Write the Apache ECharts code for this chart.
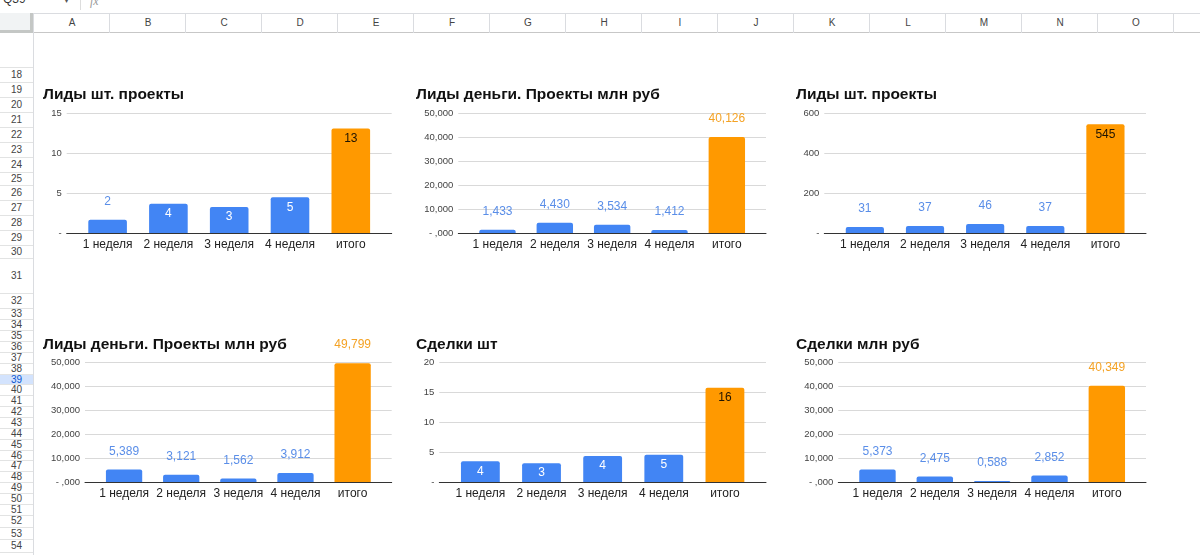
<!DOCTYPE html>
<html>
<head>
<meta charset="utf-8">
<script src="https://cdn.jsdelivr.net/npm/echarts@6/dist/echarts.min.js"></script>
<style>
html,body{margin:0;padding:0;width:1200px;height:555px;overflow:hidden;background:#fff;font-family:"Liberation Sans",Arial,sans-serif;}
#chrome{position:absolute;left:0;top:0;width:1200px;height:555px;}
#chart{position:absolute;left:0;top:0;width:1200px;height:555px;}
.abs{position:absolute;box-sizing:border-box;}
</style>
</head>
<body>
<div id="chrome"></div>
<div id="chart"></div>
<script>
// ---------- data ----------
const categories = ['1 неделя', '2 неделя', '3 неделя', '4 неделя', 'итого'];
const chartTitles = ['Лиды шт. проекты', 'Лиды деньги. Проекты млн руб', 'Лиды шт. проекты',
                     'Лиды деньги. Проекты млн руб', 'Сделки шт', 'Сделки млн руб'];
const leadsCountA = [1.7, 3.7, 3.3, 4.5, 13.1];
const leadsMoneyA = [1433, 4430, 3534, 1412, 40126];
const leadsCountB = [31, 37, 46, 37, 545];
const leadsMoneyB = [5389, 3121, 1562, 3912, 49799];
const dealsCount = [3.5, 3.2, 4.4, 4.6, 15.8];
const dealsMoney = [5373, 2475, 588, 2852, 40349];
const axisMax = [15, 50000, 600, 50000, 20, 50000];
const axisStep = [5, 10000, 200, 10000, 5, 10000];
const valueKinds = ['count', 'money', 'count', 'money', 'count', 'money'];
const columnLetters = ['A','B','C','D','E','F','G','H','I','J','K','L','M','N','O'];
const rowLabels = ['18','19','20','21','22','23','24','25','26','27','28','29','30','31','32','33','34','35','36','37','38','39','40','41','42','43','44','45','46','47','48','49','50','51','52','53','54'];

// ---------- spreadsheet chrome (decoration) ----------
(function () {
  const c = document.getElementById('chrome');
  function box(css, text) {
    const d = document.createElement('div');
    d.className = 'abs';
    d.style.cssText = css;
    if (text !== undefined) d.textContent = text;
    c.appendChild(d);
    return d;
  }
  box('left:3px;top:-8px;font-size:12px;color:#333;', 'Q39');
  box('left:64px;top:-6px;font-size:10px;color:#555;', '▾');
  box('left:80px;top:0;width:1px;height:10px;background:#ddd;');
  box('left:90px;top:-6px;font-size:12px;color:#999;font-style:italic;font-family:serif;', 'fx');
  box('left:0;top:13px;width:1200px;height:1px;background:#dadce0;');
  box('left:0;top:32px;width:1200px;height:1px;background:#c7c7c7;');
  box('left:0;top:13px;width:33px;height:20px;background:#f1f3f4;border-right:3px solid #c4c7c5;border-bottom:3px solid #c4c7c5;');
  const colW = 76, colX0 = 34;
  for (let i = 0; i <= columnLetters.length; i++) {
    const x = colX0 + i * colW;
    box('left:' + (x - 1) + 'px;top:13px;width:1px;height:20px;background:#dadce0;');
    if (i < columnLetters.length) {
      box('left:' + x + 'px;top:13px;width:' + colW + 'px;height:19px;line-height:19px;text-align:center;font-size:10px;color:#444;', columnLetters[i]);
    }
  }
  box('left:33px;top:33px;width:1px;height:522px;background:#dadce0;');
  const rowEdges = [66.7, 81.7, 96.7, 111.7, 126.7, 141.7, 156.7, 171.7, 185, 200, 215, 230, 245, 258,
                    293, 308.3, 319.3, 330, 341, 351.7, 362.7, 373.7, 384.3, 395.3, 406, 417, 428, 438.7,
                    449.7, 460.3, 471.3, 482.3, 493.3, 504, 515, 526.7, 539.3, 551.7];
  box('left:0;top:' + rowEdges[0] + 'px;width:33px;height:1px;background:#e2e3e3;');
  for (let i = 0; i < rowLabels.length; i++) {
    const t = rowEdges[i], b = (i + 1 < rowEdges.length) ? rowEdges[i + 1] : 564;
    const sel = rowLabels[i] === '39';
    box('left:0;top:' + (t + 1) + 'px;width:33px;height:' + (b - t - 1) + 'px;line-height:' + (b - t - 1) + 'px;text-align:center;font-size:10px;' +
        (sel ? 'background:#d3e3fd;color:#0b57d0;' : 'color:#444;'), rowLabels[i]);
    box('left:0;top:' + b + 'px;width:33px;height:1px;background:#e2e3e3;');
  }
})();

// ---------- charts ----------
const seriesValues = [leadsCountA, leadsMoneyA, leadsCountB, leadsMoneyB, dealsCount, dealsMoney];
const layouts = [
  { x0: 66.7,  x1: 391.7, y0: 113.3, y1: 233.3, tx: 43,  ty: 95 },
  { x0: 458.3, x1: 766,   y0: 113.3, y1: 233.3, tx: 416, ty: 95 },
  { x0: 824.3, x1: 1146,  y0: 113.3, y1: 233.3, tx: 796, ty: 95 },
  { x0: 85,    x1: 391.7, y0: 362.7, y1: 482.3, tx: 43,  ty: 344.3 },
  { x0: 439.3, x1: 766,   y0: 362.7, y1: 482.3, tx: 416, ty: 344.3 },
  { x0: 838.3, x1: 1146,  y0: 362.7, y1: 482.3, tx: 796, ty: 344.3 }
];
const BLUE = '#4285f4', ORANGE = '#ff9900';
const FONT = '"Liberation Sans", Arial, sans-serif';

function fmtValue(v, kind) {
  if (kind === 'count') return String(Math.round(v));
  if (v < 1000) return '0,' + String(Math.round(v)).padStart(3, '0');
  return Math.round(v).toLocaleString('en-US');
}
function fmtTick(v, kind) {
  if (v === 0) return kind === 'money' ? '- ,000' : '-';
  return v.toLocaleString('en-US');
}

const option = {
  animation: false,
  textStyle: { fontFamily: FONT },
  title: [], grid: [], xAxis: [], yAxis: [], series: []
};

layouts.forEach((L, i) => {
  const kind = valueKinds[i], max = axisMax[i], step = axisStep[i];
  const vals = seriesValues[i];
  const inset = 10.5;
  option.title.push({
    text: chartTitles[i], left: L.tx, top: L.ty - 9, padding: 0,
    textStyle: { fontSize: 15.5, fontWeight: 'bold', color: '#111', lineHeight: 18, fontFamily: FONT }
  });
  option.grid.push({ left: L.x0, top: L.y0, width: L.x1 - L.x0, height: L.y1 - L.y0, containLabel: false });
  option.grid.push({ left: L.x0 + inset, top: L.y0, width: L.x1 - L.x0 - 2 * inset, height: L.y1 - L.y0, containLabel: false });
  const gA = 2 * i, gB = 2 * i + 1;
  option.xAxis.push({
    gridIndex: gA, type: 'category', data: [''], z: 5,
    axisLine: { show: true, lineStyle: { color: '#333', width: 1 } },
    axisTick: { show: false }, axisLabel: { show: false }, splitLine: { show: false }
  });
  option.yAxis.push({
    gridIndex: gA, type: 'value', min: 0, max: max, interval: step,
    axisLine: { show: false }, axisTick: { show: false },
    axisLabel: { fontSize: 9.5, color: '#444', margin: 5, formatter: v => fmtTick(v, kind) },
    splitLine: { show: true, lineStyle: { color: '#d9d9d9', width: 1 } }
  });
  option.xAxis.push({
    gridIndex: gB, type: 'category', data: categories,
    axisLine: { show: false }, axisTick: { show: false },
    axisLabel: { fontSize: 12, color: '#222', margin: 5, interval: 0 }
  });
  option.yAxis.push({
    gridIndex: gB, type: 'value', min: 0, max: max, interval: step, show: false,
    splitLine: { show: false }
  });
  option.series.push({
    type: 'bar', xAxisIndex: gB, yAxisIndex: gB, barCategoryGap: '36.5%',
    data: vals.map((v, j) => {
      const isTotal = j === vals.length - 1;
      const text = fmtValue(v, kind);
      const inside = v / max > 0.13 && text.length <= 3;
      return {
        value: v,
        itemStyle: { color: isTotal ? ORANGE : BLUE, borderRadius: [2, 2, 0, 0] },
        label: {
          show: true,
          position: inside ? 'insideTop' : 'top',
          distance: inside ? 4 : 12,
          fontSize: 12,
          color: inside ? (isTotal ? '#1f1400' : '#ffffff') : (isTotal ? '#f4a224' : '#5a8ee8'),
          formatter: () => text
        }
      };
    })
  });
});

const chart = echarts.init(document.getElementById('chart'), null, { renderer: 'canvas' });
chart.setOption(option);
</script>
</body>
</html>
